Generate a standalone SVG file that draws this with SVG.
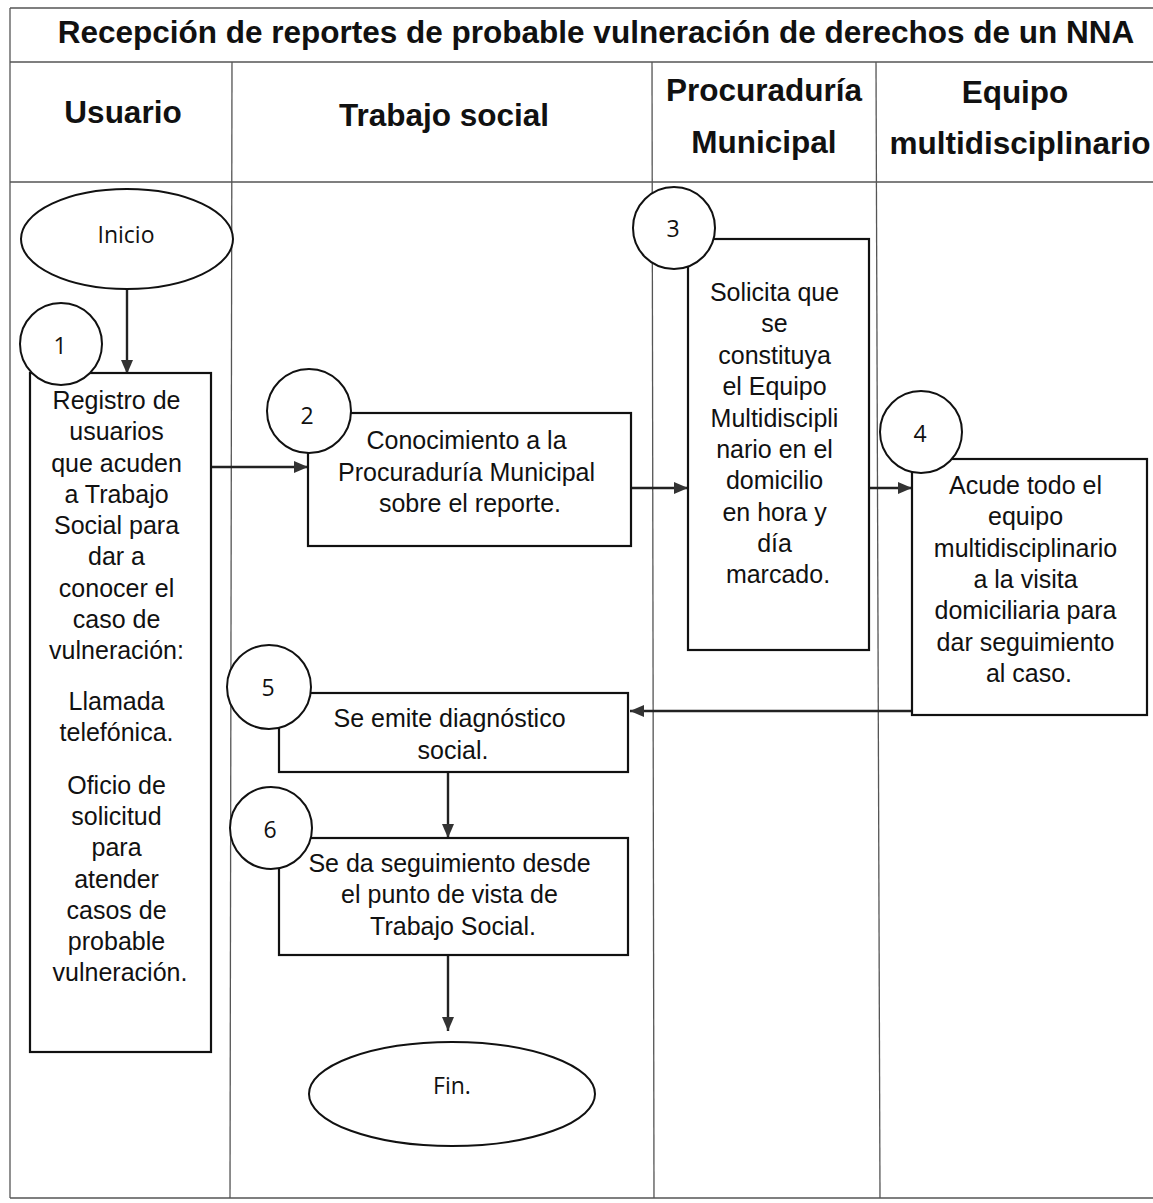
<svg xmlns="http://www.w3.org/2000/svg" width="1153" height="1203" viewBox="0 0 1153 1203">
  <style>
    .grid { stroke: #555; stroke-width: 1.3; fill: none; }
    .box { fill: #fff; stroke: #111; stroke-width: 2.2; }
    .num { fill: #fff; stroke: #111; stroke-width: 2; }
    .conn { stroke: #222; stroke-width: 2.4; fill: none; marker-end: url(#arrow); }
    .t { font-family: "Liberation Sans", Arial, sans-serif; font-size: 25px; fill: #111; text-anchor: middle; dominant-baseline: central; }
    .h { font-family: "Liberation Sans", Arial, sans-serif; font-size: 31.5px; font-weight: bold; fill: #111; text-anchor: middle; dominant-baseline: central; }
    .c { font-family: "Open Sans", "Noto Sans", sans-serif; font-size: 23px; fill: #111; text-anchor: middle; dominant-baseline: central; }
  </style>
  <defs>
    <marker id="arrow" viewBox="0 0 14 12" refX="14" refY="6" markerWidth="14" markerHeight="12" markerUnits="userSpaceOnUse" orient="auto">
      <path d="M0,0 L14,6 L0,12 Z" fill="#333"/>
    </marker>
  </defs>
  <rect width="1153" height="1203" fill="#fff"/>

  <!-- table grid -->
  <g id="grid">
    <line class="grid" x1="10" y1="8" x2="1153" y2="8"/>
    <line class="grid" x1="10" y1="62" x2="1153" y2="62"/>
    <line class="grid" x1="10" y1="182" x2="1153" y2="182"/>
    <line class="grid" x1="10" y1="1198" x2="1153" y2="1198"/>
    <line class="grid" x1="10" y1="8" x2="10" y2="1198"/>
    <line class="grid" x1="232" y1="62" x2="230" y2="1198"/>
    <line class="grid" x1="652" y1="62" x2="654" y2="1198"/>
    <line class="grid" x1="876" y1="62" x2="880" y2="1198"/>
  </g>

  <!-- title and lane headers -->
  <g id="headers">
    <text class="h" x="596" y="32">Recepción de reportes de probable vulneración de derechos de un NNA</text>
    <text class="h" x="123" y="112">Usuario</text>
    <text class="h" x="444" y="115">Trabajo social</text>
    <text class="h" x="764" y="90">Procuraduría</text>
    <text class="h" x="764" y="142">Municipal</text>
    <text class="h" x="1015" y="92">Equipo</text>
    <text class="h" x="1020" y="143">multidisciplinario</text>
  </g>

  <!-- connectors -->
  <g id="connectors">
    <line class="conn" x1="127" y1="289" x2="127" y2="374"/>
    <line class="conn" x1="212" y1="467" x2="308" y2="467"/>
    <line class="conn" x1="620" y1="488" x2="688" y2="488"/>
    <line class="conn" x1="870" y1="488" x2="912" y2="488"/>
    <line class="conn" x1="911" y1="711" x2="630" y2="711"/>
    <line class="conn" x1="448" y1="772" x2="448" y2="838"/>
    <line class="conn" x1="448" y1="955" x2="448" y2="1031"/>
  </g>

  <g id="inicio">
    <ellipse class="num" cx="127" cy="239" rx="106" ry="50"/>
    <text class="c" x="126" y="234">Inicio</text>
  </g>

  <g id="paso1">
    <rect class="box" x="30" y="373" width="181" height="679"/>
    <circle class="num" cx="61" cy="344" r="41"/>
    <text class="c" x="60" y="345">1</text>
    <text class="t">
      <tspan x="120" y="400">Registro de</tspan>
      <tspan x="120" y="431">usuarios</tspan>
      <tspan x="120" y="463">que acuden</tspan>
      <tspan x="120" y="494">a Trabajo</tspan>
      <tspan x="120" y="525">Social para</tspan>
      <tspan x="120" y="556">dar a</tspan>
      <tspan x="120" y="588">conocer el</tspan>
      <tspan x="120" y="619">caso de</tspan>
      <tspan x="120" y="650">vulneración:</tspan>
      <tspan x="120" y="701">Llamada</tspan>
      <tspan x="120" y="732">telefónica.</tspan>
      <tspan x="120" y="785">Oficio de</tspan>
      <tspan x="120" y="816">solicitud</tspan>
      <tspan x="120" y="847">para</tspan>
      <tspan x="120" y="879">atender</tspan>
      <tspan x="120" y="910">casos de</tspan>
      <tspan x="120" y="941">probable</tspan>
      <tspan x="120" y="972">vulneración.</tspan>
    </text>
  </g>

  <g id="paso2">
    <rect class="box" x="308" y="413" width="323" height="133"/>
    <circle class="num" cx="309" cy="411" r="42"/>
    <text class="c" x="307" y="415">2</text>
    <text class="t">
      <tspan x="470" y="440">Conocimiento a la</tspan>
      <tspan x="470" y="472">Procuraduría Municipal</tspan>
      <tspan x="470" y="503">sobre el reporte.</tspan>
    </text>
  </g>

  <g id="paso3">
    <rect class="box" x="688" y="239" width="181" height="411"/>
    <circle class="num" cx="674" cy="228" r="41"/>
    <text class="c" x="673" y="228">3</text>
    <text class="t">
      <tspan x="778" y="292">Solicita que</tspan>
      <tspan x="778" y="323">se</tspan>
      <tspan x="778" y="355">constituya</tspan>
      <tspan x="778" y="386">el Equipo</tspan>
      <tspan x="778" y="418">Multidiscipli</tspan>
      <tspan x="778" y="449">nario en el</tspan>
      <tspan x="778" y="480">domicilio</tspan>
      <tspan x="778" y="512">en hora y</tspan>
      <tspan x="778" y="543">día</tspan>
      <tspan x="778" y="574">marcado.</tspan>
    </text>
  </g>

  <g id="paso4">
    <rect class="box" x="912" y="459" width="235" height="256"/>
    <circle class="num" cx="921" cy="432" r="41"/>
    <text class="c" x="920" y="433">4</text>
    <text class="t">
      <tspan x="1029" y="485">Acude todo el</tspan>
      <tspan x="1029" y="516">equipo</tspan>
      <tspan x="1029" y="548">multidisciplinario</tspan>
      <tspan x="1029" y="579">a la visita</tspan>
      <tspan x="1029" y="610">domiciliaria para</tspan>
      <tspan x="1029" y="642">dar seguimiento</tspan>
      <tspan x="1029" y="673">al caso.</tspan>
    </text>
  </g>

  <g id="paso5">
    <rect class="box" x="279" y="693" width="349" height="79"/>
    <circle class="num" cx="269" cy="687" r="42"/>
    <text class="c" x="268" y="687">5</text>
    <text class="t">
      <tspan x="453" y="718">Se emite diagnóstico</tspan>
      <tspan x="453" y="750">social.</tspan>
    </text>
  </g>

  <g id="paso6">
    <rect class="box" x="279" y="838" width="349" height="117"/>
    <circle class="num" cx="271" cy="828" r="41"/>
    <text class="c" x="270" y="829">6</text>
    <text class="t">
      <tspan x="453" y="863">Se da seguimiento desde</tspan>
      <tspan x="453" y="894">el punto de vista de</tspan>
      <tspan x="453" y="926">Trabajo Social.</tspan>
    </text>
  </g>

  <g id="fin">
    <ellipse class="num" cx="452" cy="1094" rx="143" ry="52"/>
    <text class="c" x="452" y="1085">Fin.</text>
  </g>
</svg>
